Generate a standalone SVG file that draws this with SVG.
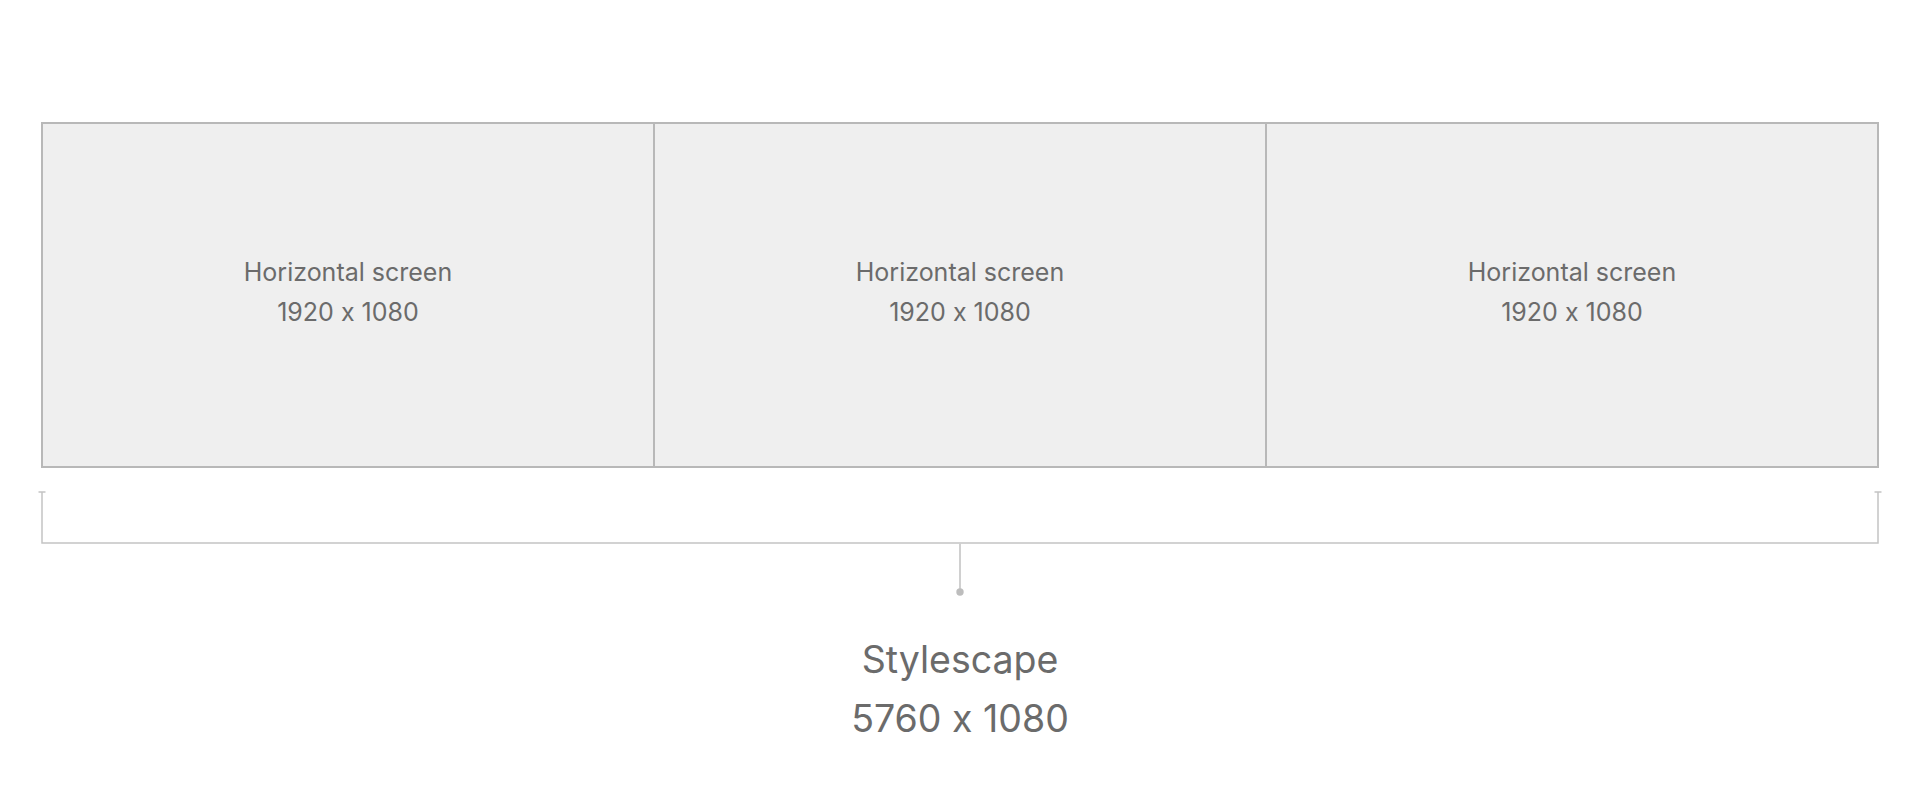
<svg xmlns="http://www.w3.org/2000/svg" width="1920" height="800" viewBox="0 0 1920 800">
  <style>
    .screen { fill: #efefef; stroke: #b8b8b8; stroke-width: 2; }
    .lbl { font-family: Inter, "Liberation Sans", sans-serif; fill: #6b6b6b; text-anchor: middle; font-feature-settings: "calt" 0; font-variant-ligatures: no-contextual; }
    .small { font-size: 25px; }
    .big { font-size: 37.5px; }
    .brk { stroke: #c4c4c4; stroke-width: 1.5; fill: none; }
    .stem { stroke: #d0d0d0; stroke-width: 2; fill: none; }
  </style>
  <rect width="1920" height="800" fill="#ffffff"/>
  <g id="screen1">
    <rect class="screen" x="42" y="123" width="612" height="344"/>
    <text class="lbl small" x="348" y="281">Horizontal screen</text>
    <text class="lbl small" x="348" y="321">1920 x 1080</text>
  </g>
  <g id="screen2">
    <rect class="screen" x="654" y="123" width="612" height="344"/>
    <text class="lbl small" x="960" y="281">Horizontal screen</text>
    <text class="lbl small" x="960" y="321">1920 x 1080</text>
  </g>
  <g id="screen3">
    <rect class="screen" x="1266" y="123" width="612" height="344"/>
    <text class="lbl small" x="1572" y="281">Horizontal screen</text>
    <text class="lbl small" x="1572" y="321">1920 x 1080</text>
  </g>
  <g id="connectors">
    <path class="brk" d="M38.5 492 H45.5 M42 492 V543 H1878 V492 M1874.5 492 H1881.5"/>
    <line class="stem" x1="960" y1="543" x2="960" y2="591"/>
    <circle cx="960" cy="592" r="3.7" fill="#bdbdbd"/>
  </g>
  <g id="stylescape">
    <text class="lbl big" x="960" y="673">Stylescape</text>
    <text class="lbl big" x="960" y="732">5760 x 1080</text>
  </g>
</svg>
